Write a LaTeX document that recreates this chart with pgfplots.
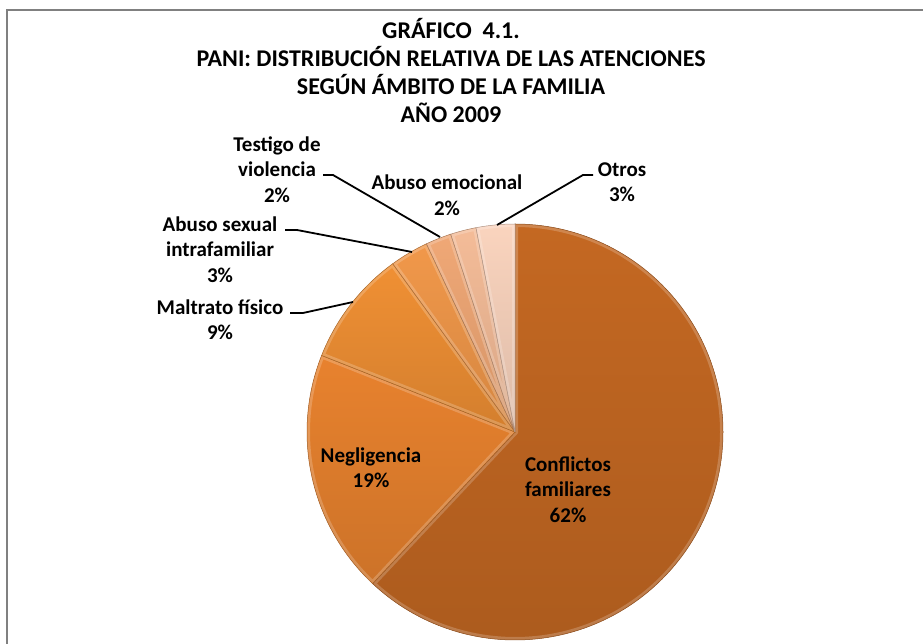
\documentclass[border=0pt]{standalone}
\usepackage{pgfplots}
\usepackage{pgfplotstable}
\pgfplotsset{compat=1.18}
\usepackage{fontspec}
\setmainfont{Carlito}

\definecolor{conf}{RGB}{196,104,34}
\definecolor{negl}{RGB}{232,130,46}
\definecolor{malt}{RGB}{240,144,52}
\definecolor{abus}{RGB}{241,152,74}
\definecolor{test}{RGB}{240,168,118}
\definecolor{emoc}{RGB}{244,188,152}
\definecolor{otro}{RGB}{250,212,190}
\definecolor{frame}{RGB}{128,128,128}

% shares in percent, clockwise from 12 o'clock
\pgfplotstableread{
name value color
Conflictos 62 conf
Negligencia 19 negl
Maltrato 9 malt
AbusoSexual 3 abus
Testigo 2 test
AbusoEmocional 2 emoc
Otros 3 otro
}\pietable

\newcommand{\lbl}[3]{\node[anchor=base, inner sep=0pt, font=\bfseries\fontsize{21}{25}\selectfont] at (axis cs:#1,#2) {#3};}
\newcommand{\ttl}[2]{\node[anchor=base, inner sep=0pt, font=\bfseries\fontsize{24}{28}\selectfont] at (axis cs:451,#1) {#2};}
\newcommand{\slicepath}{(axis cs:515,212) -- ++(\angA:208pt) arc[start angle=\angA, end angle=\angB, radius=208pt] -- cycle}

\begin{document}
\begin{tikzpicture}
\begin{axis}[
  x=1pt, y=1pt,
  xmin=0, xmax=923, ymin=0, ymax=644,
  hide axis, clip=false,
]
\coordinate (bl) at (axis cs:0,0);
\coordinate (tr) at (axis cs:923,644);
% frame
\draw[frame, line width=2pt] (axis cs:7,-20) -- (axis cs:7,634) -- (axis cs:940,634);
% pie
\pgfplotsextra{
  \pgfplotstablegetrowsof{\pietable}
  \pgfmathtruncatemacro\nrows{\pgfplotsretval-1}
  \gdef\angA{90}
  \foreach \i in {0,...,\nrows}{
    \pgfplotstablegetelem{\i}{value}\of\pietable\let\val\pgfplotsretval
    \pgfplotstablegetelem{\i}{color}\of\pietable\let\col\pgfplotsretval
    \pgfmathsetmacro\angB{\angA-3.6*\val}
    \begin{scope}
      \clip \slicepath;
      \shade[top color=\col, bottom color=\col!88!black] \slicepath;
      \draw[white, opacity=0.2, line width=6pt] \slicepath;
    \end{scope}
    \draw[\col!70!black, line width=0.5pt] \slicepath;
    \xdef\angA{\angB}
  }
}
% title
\ttl{605}{GRÁFICO\ \ 4.1.}
\ttl{577}{PANI: DISTRIBUCIÓN RELATIVA DE LAS ATENCIONES}
\ttl{549}{SEGÚN ÁMBITO DE LA FAMILIA}
\ttl{521}{AÑO 2009}
% labels
\lbl{277}{492}{Testigo de}
\lbl{277}{467}{violencia}
\lbl{277}{441}{2\%}
\lbl{220}{412}{Abuso sexual}
\lbl{220}{387}{intrafamiliar}
\lbl{220}{361}{3\%}
\lbl{220}{329}{Maltrato físico}
\lbl{220}{304}{9\%}
\lbl{447}{454}{Abuso emocional}
\lbl{447}{428}{2\%}
\lbl{622}{467}{Otros}
\lbl{622}{442}{3\%}
\lbl{371}{181}{Negligencia}
\lbl{371}{156}{19\%}
\lbl{568}{172}{Conflictos}
\lbl{568}{147}{familiares}
\lbl{568}{121}{62\%}
% leader lines
\draw[black, line width=1.8pt] (axis cs:323,469) -- (axis cs:333,469) -- (axis cs:440,407);
\draw[black, line width=1.8pt] (axis cs:285,414) -- (axis cs:297,414) -- (axis cs:412,392);
\draw[black, line width=1.8pt] (axis cs:290,331) -- (axis cs:303,331) -- (axis cs:353,342);
\draw[black, line width=1.8pt] (axis cs:593,469) -- (axis cs:583,469) -- (axis cs:497,419);
\end{axis}
\pgfresetboundingbox
\useasboundingbox (bl) rectangle (tr);
\end{tikzpicture}
\end{document}
